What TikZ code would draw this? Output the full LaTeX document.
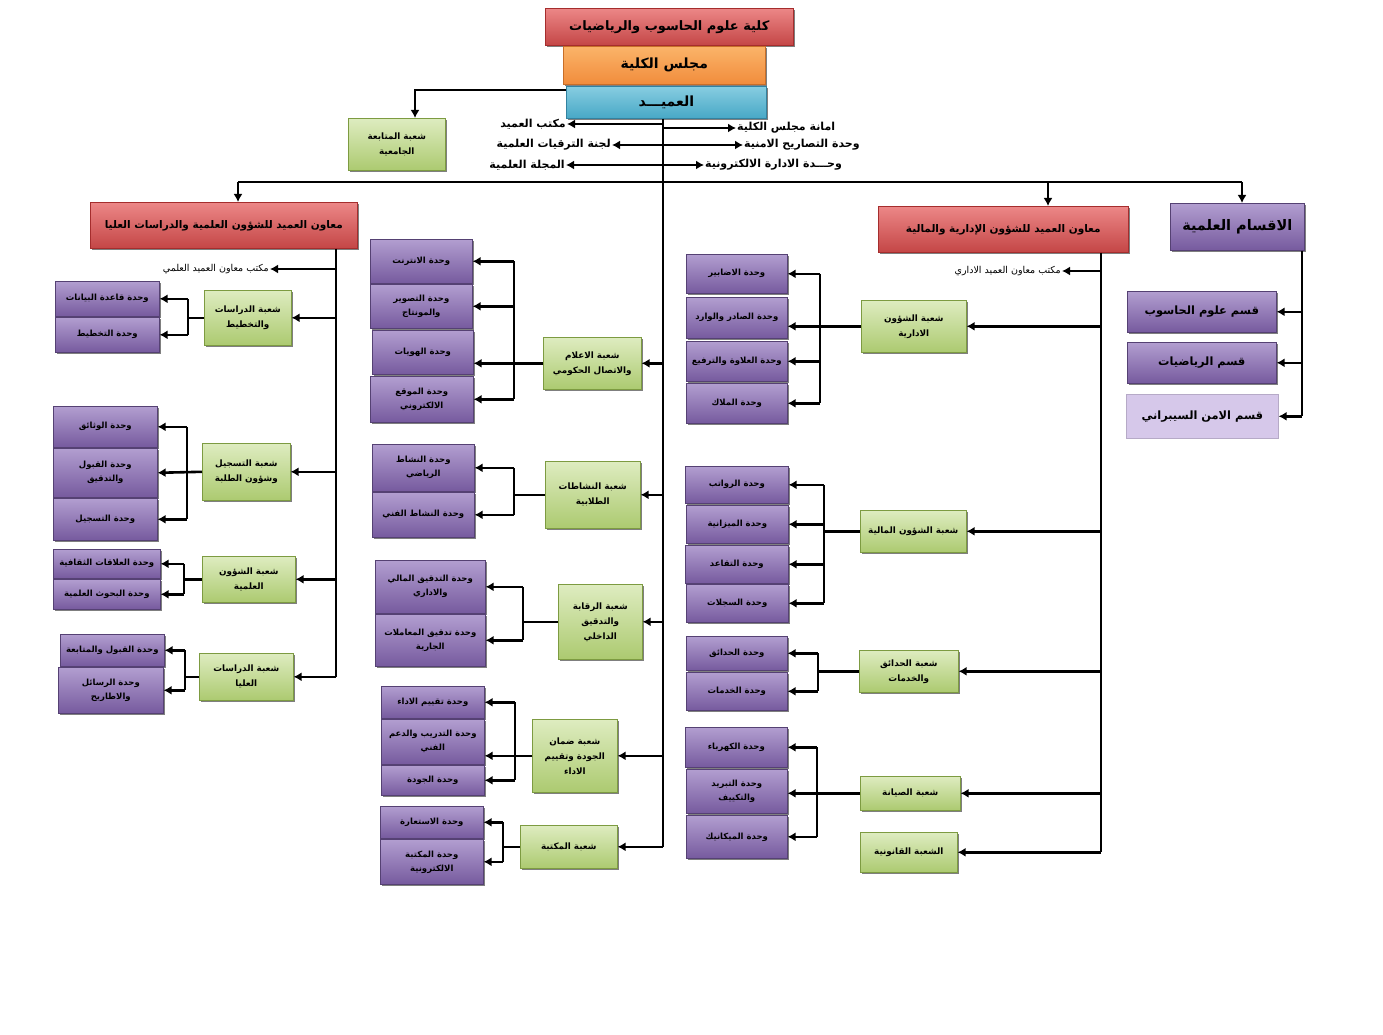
\documentclass[tikz,border=0pt]{standalone}
\usepackage{fontspec}
\newfontfamily\arabicfont[Script=Arabic]{DejaVu Sans}
\TeXXeTstate=1
\usetikzlibrary{arrows.meta,shadows}
\newcommand\ar[1]{\beginR #1\endR}
\newcommand\bx[7]{%
  \pgfmathsetmacro\bw{#5-#3}\pgfmathsetmacro\bh{#6-#4}%
  \node[#1, minimum width=\bw pt, minimum height=\bh pt, anchor=north west] (#2) at (#3,#4) {#7};}
\definecolor{ptop}{RGB}{178,158,208}
\definecolor{pbot}{RGB}{118,90,158}
\definecolor{pdr}{RGB}{85,65,115}
\definecolor{gtop}{RGB}{222,236,192}
\definecolor{gbot}{RGB}{172,202,112}
\definecolor{gdr}{RGB}{125,155,65}
\definecolor{rtop}{RGB}{236,135,135}
\definecolor{rbot}{RGB}{196,70,70}
\definecolor{rdr}{RGB}{165,45,45}
\definecolor{otop}{RGB}{251,180,105}
\definecolor{obot}{RGB}{241,140,60}
\definecolor{odr}{RGB}{200,110,40}
\definecolor{btop}{RGB}{135,205,225}
\definecolor{bbot}{RGB}{72,168,198}
\definecolor{bdr}{RGB}{50,130,160}
\definecolor{lpur}{RGB}{214,200,234}
\tikzset{
  base/.style={draw, line width=0.6pt, align=center, inner sep=1pt, text=black},
  shd/.style={drop shadow={shadow xshift=2pt, shadow yshift=-2pt, fill=black, opacity=.5}},
  purp/.style={base, shd, draw=pdr, top color=ptop, bottom color=pbot, font=\arabicfont\bfseries\fontsize{8.5}{14}\selectfont},
  grn/.style={base, shd, draw=gdr, top color=gtop, bottom color=gbot, font=\arabicfont\bfseries\fontsize{8.8}{15}\selectfont},
  redb/.style={base, shd, draw=rdr, top color=rtop, bottom color=rbot, font=\arabicfont\bfseries\fontsize{10.5}{12}\selectfont},
  orb/.style={base, shd, draw=odr, top color=otop, bottom color=obot, font=\arabicfont\bfseries\fontsize{14}{16}\selectfont},
  blb/.style={base, shd, draw=bdr, top color=btop, bottom color=bbot, font=\arabicfont\bfseries\fontsize{14}{16}\selectfont},
  dept/.style={base, shd, draw=pdr, top color=ptop, bottom color=pbot, font=\arabicfont\bfseries\fontsize{11.4}{13}\selectfont},
  hdr/.style={inner sep=1pt, font=\arabicfont\bfseries\fontsize{11}{13}\selectfont},
  sml/.style={inner sep=1pt, font=\arabicfont\fontsize{9.5}{11}\selectfont},
  ln/.style={line width=2.6pt, black},
  arr/.style={line width=2.6pt, black, -{Latex[length=8pt,width=9pt]}},
}
\begin{document}
\begin{tikzpicture}[x=1pt,y=-1pt]
\useasboundingbox[fill=white] (0,0) rectangle (1383,1035);

% ---------- top ----------
\bx{redb,font=\arabicfont\bfseries\fontsize{13}{15}\selectfont}{col}{545}{8}{793}{45}{\ar{كلية علوم الحاسوب والرياضيات}}
\bx{orb}{cou}{563}{46}{765}{84}{\ar{مجلس الكلية}}
\bx{blb}{dean}{566}{86}{766}{118}{\ar{العميـــد}}
\bx{grn}{mut}{348}{118}{445}{170}{\ar{شعبة المتابعة}\\\ar{الجامعية}}

\coordinate (M) at (663,0);
\coordinate (dl) at (415,90);
\draw[arr] (dean.west |- dl) -- (dl) -- (dl |- mut.north);

\node[hdr, anchor=east] (mk) at (567,124) {\ar{مكتب العميد}};
\node[hdr, anchor=west] (am) at (736,128) {\ar{امانة مجلس الكلية}};
\node[hdr, anchor=east] (lj) at (612,145) {\ar{لجنة الترقيات العلمية}};
\node[hdr, anchor=west] (ts) at (743,145) {\ar{وحدة التصاريح الامنية}};
\node[hdr, anchor=east] (mj) at (566,165) {\ar{المجلة العلمية}};
\node[hdr, anchor=west] (ed) at (704,165) {\ar{وحـــدة الادارة الالكترونية}};
\draw[arr] (M |- mk.east) -- (mk.east);
\draw[arr] (M |- am.west) -- (am.west);
\draw[arr] (M |- lj.east) -- (lj.east);
\draw[arr] (M |- ts.west) -- (ts.west);
\draw[arr] (M |- mj.east) -- (mj.east);
\draw[arr] (M |- ed.west) -- (ed.west);

% ---------- second level ----------
\bx{redb}{lr}{90}{202}{357}{248}{\ar{معاون العميد للشؤون العلمية والدراسات العليا}}
\bx{redb}{rr}{878}{206}{1128}{252}{\ar{معاون العميد للشؤون الإدارية والمالية}}
\bx{dept,font=\arabicfont\bfseries\fontsize{14.5}{16}\selectfont}{dep}{1170}{203}{1304}{250}{\ar{الاقسام العلمية}}

\coordinate (H1) at (238,182);
\coordinate (H2) at (1048,182);
\coordinate (H3) at (1242,182);
\draw[ln] (H1) -- (H3);
\draw[arr] (H1) -- (H1 |- lr.north);
\draw[arr] (H2) -- (H2 |- rr.north);
\draw[arr] (H3) -- (H3 |- dep.north);

% ---------- departments ----------
\bx{dept}{cs}{1127}{291}{1276}{332}{\ar{قسم علوم الحاسوب}}
\bx{dept}{mt}{1127}{342}{1276}{383}{\ar{قسم الرياضيات}}
\bx{base,draw=lpur!85!black,fill=lpur,font=\arabicfont\bfseries\fontsize{11.4}{13}\selectfont}{cy}{1126}{394}{1278}{438}{\ar{قسم الامن السيبراني}}
\coordinate (D) at (1302,0);
\draw[ln] (dep.south -| D) -- (D |- cy.east);
\draw[arr] (D |- cs.east) -- (cs.east);
\draw[arr] (D |- mt.east) -- (mt.east);
\draw[arr] (D |- cy.east) -- (cy.east);

% ---------- left branch ----------
\coordinate (L) at (336,0);
\node[sml, anchor=east] (ml) at (270,269) {\ar{مكتب معاون العميد العلمي}};
\bx{grn}{g1}{204}{290}{291}{345}{\ar{شعبة الدراسات}\\\ar{والتخطيط}}
\bx{purp}{c11}{55}{281}{159}{316}{\ar{وحدة قاعدة البيانات}}
\bx{purp}{c12}{55}{317}{159}{352}{\ar{وحدة التخطيط}}
\bx{grn}{g2}{202}{443}{290}{500}{\ar{شعبة التسجيل}\\\ar{وشؤون الطلبة}}
\bx{purp}{c21}{53}{406}{157}{447}{\ar{وحدة الوثائق}}
\bx{purp}{c22}{53}{448}{157}{497}{\ar{وحدة القبول}\\\ar{والتدقيق}}
\bx{purp}{c23}{53}{498}{157}{540}{\ar{وحدة التسجيل}}
\bx{grn}{g3}{202}{556}{295}{602}{\ar{شعبة الشؤون}\\\ar{العلمية}}
\bx{purp}{c31}{53}{549}{160}{578}{\ar{وحدة العلاقات الثقافية}}
\bx{purp}{c32}{53}{579}{160}{609}{\ar{وحدة البحوث العلمية}}
\bx{grn}{g4}{199}{653}{293}{700}{\ar{شعبة الدراسات}\\\ar{العليا}}
\bx{purp}{c41}{60}{634}{164}{666}{\ar{وحدة القبول والمتابعة}}
\bx{purp}{c42}{58}{667}{163}{713}{\ar{وحدة الرسائل}\\\ar{والاطاريح}}

\draw[ln] (lr.south -| L) -- (L |- g4.east);
\draw[arr] (L |- ml.east) -- (ml.east);
\draw[arr] (L |- g1.east) -- (g1.east);
\draw[arr] (L |- g2.east) -- (g2.east);
\draw[arr] (L |- g3.east) -- (g3.east);
\draw[arr] (L |- g4.east) -- (g4.east);

\coordinate (b1) at (188,0);
\draw[ln] (g1.west) -- (g1.west -| b1);
\draw[ln] (b1 |- c11.east) -- (b1 |- c12.east);
\draw[arr] (b1 |- c11.east) -- (c11.east);
\draw[arr] (b1 |- c12.east) -- (c12.east);

\coordinate (b2) at (187,0);
\draw[ln] (b2 |- c21.east) -- (b2 |- c23.east);
\draw[arr] (g2.west) -- (c22.east);
\draw[arr] (b2 |- c21.east) -- (c21.east);
\draw[arr] (b2 |- c23.east) -- (c23.east);

\coordinate (b3) at (184,0);
\draw[ln] (g3.west) -- (g3.west -| b3);
\draw[ln] (b3 |- c31.east) -- (b3 |- c32.east);
\draw[arr] (b3 |- c31.east) -- (c31.east);
\draw[arr] (b3 |- c32.east) -- (c32.east);

\coordinate (b4) at (185,0);
\draw[ln] (g4.west) -- (g4.west -| b4);
\draw[ln] (b4 |- c41.east) -- (b4 |- c42.east);
\draw[arr] (b4 |- c41.east) -- (c41.east);
\draw[arr] (b4 |- c42.east) -- (c42.east);

% ---------- middle branch ----------
\bx{grn}{m1}{543}{337}{641}{389}{\ar{شعبة الاعلام}\\\ar{والاتصال الحكومي}}
\bx{purp}{d11}{370}{239}{472}{283}{\ar{وحدة الانترنت}}
\bx{purp}{d12}{370}{284}{472}{328}{\ar{وحدة التصوير}\\\ar{والمونتاج}}
\bx{purp}{d13}{372}{330}{473}{374}{\ar{وحدة الهويات}}
\bx{purp}{d14}{370}{376}{473}{422}{\ar{وحدة الموقع}\\\ar{الالكتروني}}
\bx{grn}{m2}{545}{461}{640}{528}{\ar{شعبة النشاطات}\\\ar{الطلابية}}
\bx{purp}{d21}{372}{444}{474}{491}{\ar{وحدة النشاط}\\\ar{الرياضي}}
\bx{purp}{d22}{372}{492}{474}{537}{\ar{وحدة النشاط الفني}}
\bx{grn}{m3}{558}{584}{642}{659}{\ar{شعبة الرقابة}\\\ar{والتدقيق}\\\ar{الداخلي}}
\bx{purp}{d31}{375}{560}{485}{613}{\ar{وحدة التدقيق المالي}\\\ar{والاداري}}
\bx{purp}{d32}{375}{614}{485}{666}{\ar{وحدة تدقيق المعاملات}\\\ar{الجارية}}
\bx{grn}{m4}{532}{719}{617}{792}{\ar{شعبة ضمان}\\\ar{الجودة وتقييم}\\\ar{الاداء}}
\bx{purp}{d41}{381}{686}{484}{718}{\ar{وحدة تقييم الاداء}}
\bx{purp}{d42}{381}{719}{484}{764}{\ar{وحدة التدريب والدعم}\\\ar{الفني}}
\bx{purp}{d43}{381}{765}{484}{795}{\ar{وحدة الجودة}}
\bx{grn}{m5}{520}{825}{617}{868}{\ar{شعبة المكتبة}}
\bx{purp}{d51}{380}{806}{483}{838}{\ar{وحدة الاستعارة}}
\bx{purp}{d52}{380}{839}{483}{884}{\ar{وحدة المكتبة}\\\ar{الالكترونية}}

\draw[ln] (dean.south -| M) -- (M |- m5.east);
\draw[arr] (M |- m1.east) -- (m1.east);
\draw[arr] (M |- m2.east) -- (m2.east);
\draw[arr] (M |- m3.east) -- (m3.east);
\draw[arr] (M |- m4.east) -- (m4.east);
\draw[arr] (M |- m5.east) -- (m5.east);

\coordinate (e1) at (514,0);
\draw[ln] (e1 |- d11.east) -- (e1 |- d14.east);
\draw[arr] (m1.west) -- (m1.west -| d13.east);
\draw[arr] (e1 |- d11.east) -- (d11.east);
\draw[arr] (e1 |- d12.east) -- (d12.east);
\draw[arr] (e1 |- d14.east) -- (d14.east);

\coordinate (e2) at (514,0);
\draw[ln] (m2.west) -- (m2.west -| e2);
\draw[ln] (e2 |- d21.east) -- (e2 |- d22.east);
\draw[arr] (e2 |- d21.east) -- (d21.east);
\draw[arr] (e2 |- d22.east) -- (d22.east);

\coordinate (e3) at (523,0);
\draw[ln] (m3.west) -- (m3.west -| e3);
\draw[ln] (e3 |- d31.east) -- (e3 |- d32.east);
\draw[arr] (e3 |- d31.east) -- (d31.east);
\draw[arr] (e3 |- d32.east) -- (d32.east);

\coordinate (e4) at (515,0);
\draw[ln] (e4 |- d41.east) -- (e4 |- d43.east);
\draw[arr] (m4.west) -- (m4.west -| d42.east);
\draw[arr] (e4 |- d41.east) -- (d41.east);
\draw[arr] (e4 |- d43.east) -- (d43.east);

\coordinate (e5) at (503,0);
\draw[ln] (m5.west) -- (m5.west -| e5);
\draw[ln] (e5 |- d51.east) -- (e5 |- d52.east);
\draw[arr] (e5 |- d51.east) -- (d51.east);
\draw[arr] (e5 |- d52.east) -- (d52.east);

% ---------- right admin branch ----------
\coordinate (R) at (1101,0);
\node[sml, anchor=east] (mr) at (1062,271) {\ar{مكتب معاون العميد الاداري}};
\bx{grn}{r1}{861}{300}{966}{352}{\ar{شعبة الشؤون}\\\ar{الادارية}}
\bx{purp}{f11}{686}{254}{787}{293}{\ar{وحدة الاضابير}}
\bx{purp}{f12}{686}{297}{787}{338}{\ar{وحدة الصادر والوارد}}
\bx{purp}{f13}{686}{341}{787}{381}{\ar{وحدة العلاوة والترفيع}}
\bx{purp}{f14}{686}{383}{787}{423}{\ar{وحدة الملاك}}
\bx{grn}{r2}{860}{510}{966}{552}{\ar{شعبة الشؤون المالية}}
\bx{purp}{f21}{685}{466}{788}{503}{\ar{وحدة الرواتب}}
\bx{purp}{f22}{686}{505}{788}{543}{\ar{وحدة الميزانية}}
\bx{purp}{f23}{685}{545}{788}{583}{\ar{وحدة التقاعد}}
\bx{purp}{f24}{686}{584}{788}{622}{\ar{وحدة السجلات}}
\bx{grn}{r3}{859}{650}{958}{692}{\ar{شعبة الحدائق}\\\ar{والخدمات}}
\bx{purp}{f31}{686}{636}{787}{670}{\ar{وحدة الحدائق}}
\bx{purp}{f32}{686}{672}{787}{710}{\ar{وحدة الخدمات}}
\bx{grn}{r4}{860}{776}{960}{810}{\ar{شعبة الصيانة}}
\bx{purp}{f41}{685}{727}{787}{767}{\ar{وحدة الكهرباء}}
\bx{purp}{f42}{686}{769}{787}{813}{\ar{وحدة التبريد}\\\ar{والتكييف}}
\bx{purp}{f43}{686}{815}{787}{858}{\ar{وحدة الميكانيك}}
\bx{grn}{r5}{860}{832}{957}{872}{\ar{الشعبة القانونية}}

\draw[ln] (rr.south -| R) -- (R |- r5.east);
\draw[arr] (R |- mr.east) -- (mr.east);
\draw[arr] (R |- r1.east) -- (r1.east);
\draw[arr] (R |- r2.east) -- (r2.east);
\draw[arr] (R |- r3.east) -- (r3.east);
\draw[arr] (R |- r4.east) -- (r4.east);
\draw[arr] (R |- r5.east) -- (r5.east);

\coordinate (k1) at (820,0);
\draw[ln] (k1 |- f11.east) -- (k1 |- f14.east);
\draw[arr] (r1.west) -- (r1.west -| f12.east);
\draw[arr] (k1 |- f11.east) -- (f11.east);
\draw[arr] (k1 |- f13.east) -- (f13.east);
\draw[arr] (k1 |- f14.east) -- (f14.east);

\coordinate (k2) at (824,0);
\draw[ln] (r2.west) -- (r2.west -| k2);
\draw[ln] (k2 |- f21.east) -- (k2 |- f24.east);
\draw[arr] (k2 |- f21.east) -- (f21.east);
\draw[arr] (k2 |- f22.east) -- (f22.east);
\draw[arr] (k2 |- f23.east) -- (f23.east);
\draw[arr] (k2 |- f24.east) -- (f24.east);

\coordinate (k3) at (818,0);
\draw[ln] (r3.west) -- (r3.west -| k3);
\draw[ln] (k3 |- f31.east) -- (k3 |- f32.east);
\draw[arr] (k3 |- f31.east) -- (f31.east);
\draw[arr] (k3 |- f32.east) -- (f32.east);

\coordinate (k4) at (817,0);
\draw[ln] (k4 |- f41.east) -- (k4 |- f43.east);
\draw[arr] (r4.west) -- (r4.west -| f42.east);
\draw[arr] (k4 |- f41.east) -- (f41.east);
\draw[arr] (k4 |- f43.east) -- (f43.east);
\end{tikzpicture}
\end{document}
